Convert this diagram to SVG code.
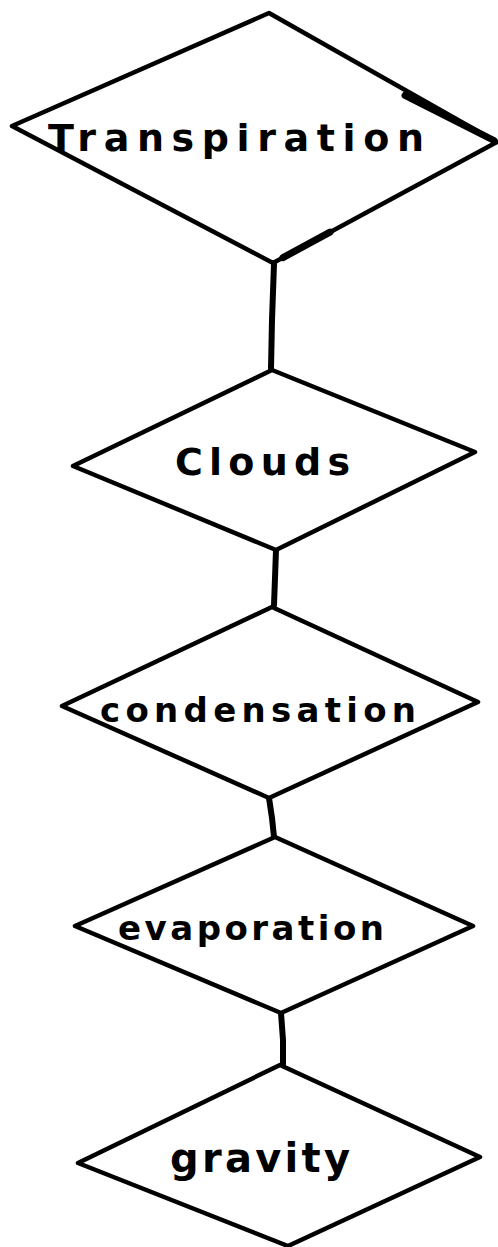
<svg xmlns="http://www.w3.org/2000/svg" width="498" height="1247" viewBox="0 0 498 1247">
<style>
.shape{fill:#fff;stroke:#000;stroke-width:4.5;stroke-linejoin:round}
.accent{fill:none;stroke:#000;stroke-width:7;stroke-linecap:round}
.conn{fill:none;stroke:#000;stroke-width:6;stroke-linecap:round}
.lbl{font-family:"DejaVu Sans","Liberation Sans",sans-serif;font-weight:bold;fill:#000}
</style>
<rect width="498" height="1247" fill="#fff"/>
<g id="connectors">
<path class="conn" d="M274 264 L272 320 L271 368"/>
<path class="conn" d="M276 550 L275 578 L274 605"/>
<path class="conn" d="M269 798 L272 818 L274 837"/>
<path class="conn" d="M281 1013 L283 1040 L283 1064"/>
</g>
<g id="node-transpiration">
<polygon class="shape" points="269,13 12,126 273,263 497,142"/>
<path class="accent" d="M405 95.5 L494 140.5"/>
<path class="accent" d="M283 257.6 L330 232.2"/>
<text class="lbl" x="48" y="151" font-size="38" textLength="376" lengthAdjust="spacing">Transpiration</text>
</g>
<g id="node-clouds">
<polygon class="shape" points="272,370 73,466 276,550 475,452"/>
<text class="lbl" x="175" y="475" font-size="38" textLength="175" lengthAdjust="spacing">Clouds</text>
</g>
<g id="node-condensation">
<polygon class="shape" points="272,607 62,706 269,798 478,702"/>
<text class="lbl" x="100" y="722" font-size="34" textLength="316" lengthAdjust="spacing">condensation</text>
</g>
<g id="node-evaporation">
<polygon class="shape" points="275,837 75,926 281,1013 473,926"/>
<text class="lbl" x="118" y="940" font-size="34" textLength="266" lengthAdjust="spacing">evaporation</text>
</g>
<g id="node-gravity">
<polygon class="shape" points="280,1065 78,1163 288,1246 480,1157"/>
<text class="lbl" x="170" y="1172" font-size="40" textLength="180" lengthAdjust="spacing">gravity</text>
</g>
</svg>
